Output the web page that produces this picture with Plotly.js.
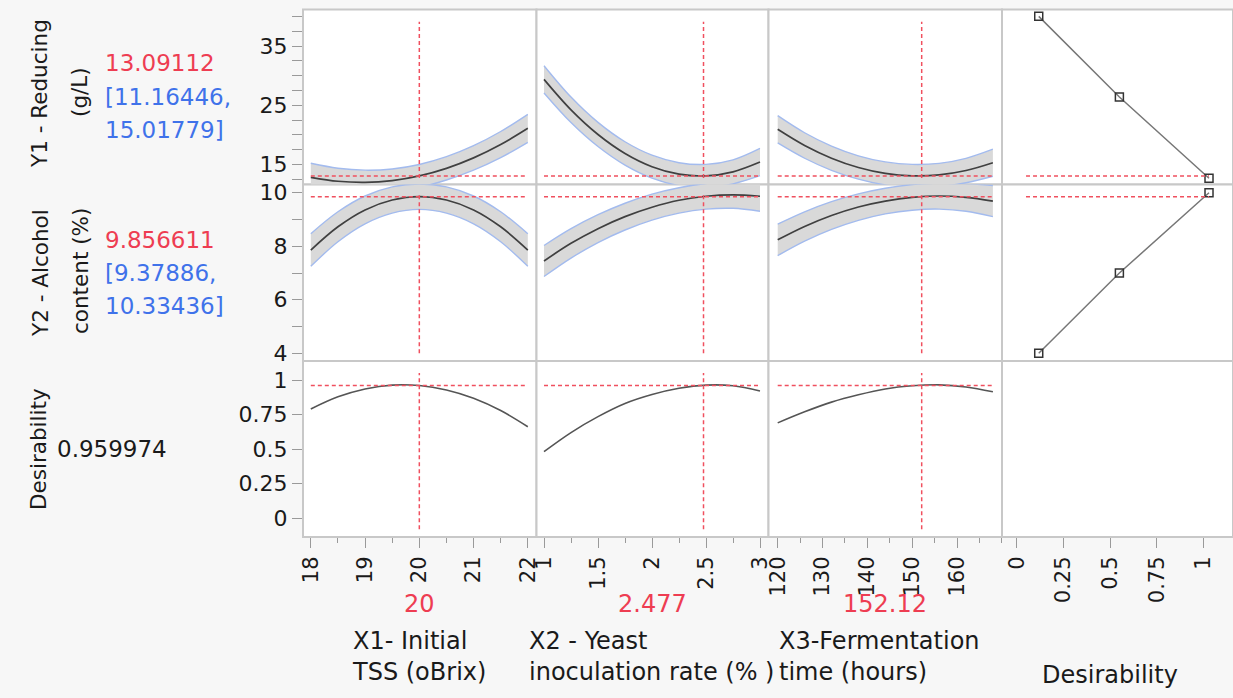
<!DOCTYPE html>
<html>
<head>
<meta charset="utf-8">
<script src="https://cdn.plot.ly/plotly-3.0.1.min.js"></script>
<style>html,body{margin:0;padding:0;background:#f7f7f7;}#chart{width:1233px;height:698px;}</style>
</head>
<body>
<div id="chart"></div>
<script>
// ---------- DATA ----------
const factorNames = ["X1- Initial<br>TSS (oBrix)", "X2 - Yeast<br>inoculation rate (% )", "X3-Fermentation<br>time (hours)", "Desirability"];
const currentX = [20, 2.477, 152.12];
const currentXText = ["20", "2.477", "152.12"];

const x1Vals = [18, 18.5, 19, 19.5, 20, 20.5, 21, 21.5, 22];
const x2Vals = [1, 1.25, 1.5, 1.75, 2, 2.25, 2.5, 2.75, 3];
const x3Vals = [120, 126, 132, 138, 144, 150, 156, 162, 168];

// Y1 - Reducing (g/L)
const y1_x1 = [12.86, 12.19, 12.0, 12.3, 13.09, 14.37, 16.13, 18.38, 21.12];
const y1_x1_hi = [15.22, 14.39, 14.06, 14.26, 15.02, 16.33, 18.19, 20.58, 23.48];
const y1_x1_lo = [10.5, 9.99, 9.94, 10.34, 11.16, 12.41, 14.07, 16.18, 18.76];
const y1_x2 = [29.38, 24.24, 20.08, 16.88, 14.65, 13.39, 13.10, 13.78, 15.43];
const y1_x2_hi = [31.68, 26.39, 22.12, 18.85, 16.59, 15.32, 15.03, 15.80, 17.73];
const y1_x2_lo = [27.08, 22.09, 18.04, 14.91, 12.71, 11.46, 11.17, 11.76, 13.13];
const y1_x3 = [20.95, 18.22, 16.08, 14.51, 13.51, 13.10, 13.26, 14.00, 15.32];
const y1_x3_hi = [23.25, 20.37, 18.12, 16.48, 15.45, 15.03, 15.21, 16.06, 17.60];
const y1_x3_lo = [18.65, 16.07, 14.04, 12.54, 11.58, 11.17, 11.31, 11.94, 13.04];

// Y2 - Alcohol content (%)
const y2_x1 = [7.86, 8.73, 9.36, 9.73, 9.86, 9.73, 9.36, 8.73, 7.86];
const y2_x1_hi = [8.47, 9.29, 9.88, 10.22, 10.33, 10.22, 9.88, 9.29, 8.47];
const y2_x1_lo = [7.25, 8.17, 8.84, 9.24, 9.38, 9.24, 8.84, 8.17, 7.25];
const y2_x2 = [7.45, 8.11, 8.66, 9.11, 9.46, 9.72, 9.87, 9.92, 9.87];
const y2_x2_hi = [8.03, 8.66, 9.18, 9.61, 9.95, 10.19, 10.35, 10.42, 10.43];
const y2_x2_lo = [6.87, 7.56, 8.14, 8.61, 8.98, 9.24, 9.39, 9.42, 9.31];
const y2_x3 = [8.24, 8.74, 9.15, 9.47, 9.69, 9.83, 9.88, 9.83, 9.69];
const y2_x3_hi = [8.83, 9.29, 9.67, 9.96, 10.17, 10.31, 10.36, 10.35, 10.27];
const y2_x3_lo = [7.65, 8.19, 8.63, 8.97, 9.21, 9.35, 9.39, 9.31, 9.11];

// Desirability
const d_x1 = [0.79, 0.878, 0.935, 0.963, 0.96, 0.928, 0.868, 0.779, 0.662];
const d_x2 = [0.482, 0.62, 0.735, 0.83, 0.895, 0.94, 0.963, 0.958, 0.92];
const d_x3 = [0.69, 0.77, 0.84, 0.893, 0.935, 0.958, 0.965, 0.95, 0.915];

// Desirability functions (desirability, response)
const desY1_d = [0.118, 0.55, 1.03];
const desY1_v = [40, 26.4, 12.7];
const desY2_d = [0.118, 0.55, 1.03];
const desY2_v = [4, 7, 10];

// Current responses
const respValues = [13.09112, 9.856611, 0.959974];
const respText = ["13.09112", "9.856611", "0.959974"];
const ciText = [["[11.16446,", "15.01779]"], ["[9.37886,", "10.33436]"]];
const respLabels = [["Y1 - Reducing", "(g/L)"], ["Y2 - Alcohol", "content (%)"], ["Desirability"]];
const vLineRange = [[12.75, 39.1], [4, 10], [-0.08, 1.05]];
const hLineX = [[18, 22], [1, 3], [120, 168], [0.05, 1.03]];

// Tick labels
const xTicks = [[18, 19, 20, 21, 22], [1, 1.5, 2, 2.5, 3], [120, 130, 140, 150, 160], [0, 0.25, 0.5, 0.75, 1]];
const yTicks = [[15, 25, 35], [4, 6, 8, 10], [0, 0.25, 0.5, 0.75, 1]];

// ---------- LAYOUT GEOMETRY ----------
const W = 1233, H = 698;
const fx = p => p / W;
const fy = p => 1 - p / H;
const colPx = [[303, 536.5], [536.5, 768.5], [768.5, 1002], [1002, 1233]];
const rowPx = [[9.5, 184.5], [184.5, 361], [361, 537]];
const xRanges = [[17.856, 22.160], [0.9306, 3.0787], [117.948, 170.034], [-0.0787, 1.1585]];
const yRanges = [[11.644, 41.155], [3.712, 10.310], [-0.1352, 1.1374]];
const xMinor = [{dtick: 0.5, tick0: 18}, {dtick: 0.25, tick0: 1}, {dtick: 5, tick0: 120}, null];
const yMinor = [{dtick: 2.5, tick0: 15}, {dtick: 1, tick0: 4}, null];

const FONT = "DejaVu Sans";
const RED = "#ee3d52";
const BLUE = "#3f72ea";
const TXT = "#1a1a1a";

const xa = c => c === 0 ? 'x' : 'x' + (c + 1);
const ya = r => r === 0 ? 'y' : 'y' + (r + 1);

const traces = [];
function band(c, r, xs, lo, hi, mid) {
  traces.push({x: xs, y: lo, xaxis: xa(c), yaxis: ya(r), mode: 'lines', line: {color: '#a3bbee', width: 1.4, shape: 'spline'}, hoverinfo: 'skip'});
  traces.push({x: xs, y: hi, xaxis: xa(c), yaxis: ya(r), mode: 'lines', fill: 'tonexty', fillcolor: '#d9d9d9', line: {color: '#a3bbee', width: 1.4, shape: 'spline'}, hoverinfo: 'skip'});
  traces.push({x: xs, y: mid, xaxis: xa(c), yaxis: ya(r), mode: 'lines', line: {color: '#404040', width: 1.7, shape: 'spline'}});
}
const xsets = [x1Vals, x2Vals, x3Vals];
band(0, 0, x1Vals, y1_x1_lo, y1_x1_hi, y1_x1);
band(1, 0, x2Vals, y1_x2_lo, y1_x2_hi, y1_x2);
band(2, 0, x3Vals, y1_x3_lo, y1_x3_hi, y1_x3);
band(0, 1, x1Vals, y2_x1_lo, y2_x1_hi, y2_x1);
band(1, 1, x2Vals, y2_x2_lo, y2_x2_hi, y2_x2);
band(2, 1, x3Vals, y2_x3_lo, y2_x3_hi, y2_x3);
[d_x1, d_x2, d_x3].forEach((d, c) => {
  traces.push({x: xsets[c], y: d, xaxis: xa(c), yaxis: ya(2), mode: 'lines', line: {color: '#555', width: 1.6, shape: 'spline'}});
});
// desirability functions
[[desY1_d, desY1_v], [desY2_d, desY2_v]].forEach((p, r) => {
  traces.push({x: p[0], y: p[1], xaxis: 'x4', yaxis: ya(r), mode: 'lines+markers',
    line: {color: '#777', width: 1.5},
    marker: {symbol: 'square-open', size: 8, color: '#333', line: {width: 1.5, color: '#333'}}});
});
traces.push({x: [], y: [], xaxis: 'x4', yaxis: 'y3', mode: 'lines'});
// red dashed reference lines
const dash = {color: '#f0505f', width: 1.5, dash: '4px,3px'};
for (let r = 0; r < 3; r++) {
  for (let c = 0; c < 3; c++) {
    traces.push({x: [currentX[c], currentX[c]], y: vLineRange[r], xaxis: xa(c), yaxis: ya(r), mode: 'lines', line: dash});
    traces.push({x: hLineX[c], y: [respValues[r], respValues[r]], xaxis: xa(c), yaxis: ya(r), mode: 'lines', line: dash});
  }
}
for (let r = 0; r < 2; r++) {
  traces.push({x: hLineX[3], y: [respValues[r], respValues[r]], xaxis: 'x4', yaxis: ya(r), mode: 'lines', line: dash});
}

const layout = {
  width: W, height: H,
  margin: {l: 0, r: 0, t: 0, b: 0},
  paper_bgcolor: '#f7f7f7',
  plot_bgcolor: 'rgba(0,0,0,0)',
  showlegend: false,
  font: {family: FONT, color: TXT},
  shapes: [], annotations: []
};
for (let c = 0; c < 4; c++) {
  const ax = {
    domain: [fx(colPx[c][0]), fx(colPx[c][1])],
    range: xRanges[c], anchor: 'y3',
    tickmode: 'array', tickvals: xTicks[c], tickangle: -90,
    ticks: 'outside', ticklen: 10, tickwidth: 1, tickcolor: '#9a9a9a',
    tickfont: {family: FONT, size: 21, color: TXT},
    showgrid: false, zeroline: false, showline: false, fixedrange: true
  };
  if (xMinor[c]) ax.minor = Object.assign({ticks: 'outside', ticklen: 5, tickcolor: '#9a9a9a', showgrid: false}, xMinor[c]);
  layout[c === 0 ? 'xaxis' : 'xaxis' + (c + 1)] = ax;
}
for (let r = 0; r < 3; r++) {
  const ay = {
    domain: [fy(rowPx[r][1]), fy(rowPx[r][0])],
    range: yRanges[r], anchor: 'x',
    tickmode: 'array', tickvals: yTicks[r],
    ticks: 'outside', ticklen: 10, tickwidth: 1, tickcolor: '#9a9a9a',
    tickfont: {family: FONT, size: 22, color: TXT},
    showgrid: false, zeroline: false, showline: false, fixedrange: true
  };
  if (yMinor[r]) ay.minor = Object.assign({ticks: 'outside', ticklen: 10, tickcolor: '#9a9a9a', showgrid: false}, yMinor[r]);
  layout[r === 0 ? 'yaxis' : 'yaxis' + (r + 1)] = ay;
}
// panel frames
for (let r = 0; r < 3; r++) {
  for (let c = 0; c < 4; c++) {
    layout.shapes.push({type: 'rect', xref: 'paper', yref: 'paper', layer: 'below',
      x0: fx(colPx[c][0]), x1: fx(colPx[c][1]), y0: fy(rowPx[r][1]), y1: fy(rowPx[r][0]),
      fillcolor: '#ffffff', line: {color: '#c8c8c8', width: 2}});
  }
}
function ann(text, x, y, opts) {
  layout.annotations.push(Object.assign({text: text, x: fx(x), y: fy(y), xref: 'paper', yref: 'paper',
    showarrow: false, xanchor: 'center', yanchor: 'middle', font: {family: FONT, size: 22, color: TXT}}, opts || {}));
}
// left rotated labels
const labelY = [94, 273, 449];
respLabels.forEach((lines, r) => {
  if (lines.length === 2) {
    ann(lines[0], 40, labelY[r], {textangle: -90, font: {family: FONT, size: 21.5, color: TXT}});
    ann(lines[1], 80, labelY[r] - 2, {textangle: -90, font: {family: FONT, size: 21.5, color: TXT}});
  } else {
    ann(lines[0], 38, labelY[r], {textangle: -90, font: {family: FONT, size: 21.5, color: TXT}});
  }
});
// current values and CIs
ann(respText[0], 103, 63, {xanchor: 'left', font: {family: FONT, size: 23, color: RED}});
ann(ciText[0][0], 103, 97, {xanchor: 'left', font: {family: FONT, size: 23, color: BLUE}});
ann(ciText[0][1], 103, 130, {xanchor: 'left', font: {family: FONT, size: 23, color: BLUE}});
ann(respText[1], 103, 240, {xanchor: 'left', font: {family: FONT, size: 23, color: RED}});
ann(ciText[1][0], 103, 273, {xanchor: 'left', font: {family: FONT, size: 23, color: BLUE}});
ann(ciText[1][1], 103, 306, {xanchor: 'left', font: {family: FONT, size: 23, color: BLUE}});
ann(respText[2], 55, 449, {xanchor: 'left', font: {family: FONT, size: 23, color: TXT}});
// bottom factor values and names
const colCenters = colPx.map(p => (p[0] + p[1]) / 2);
currentXText.forEach((t, c) => ann(t, colCenters[c], 604, {font: {family: FONT, size: 24, color: RED}}));
const nameLeft = [350, 527, 777];
for (let c = 0; c < 3; c++) {
  ann(factorNames[c], nameLeft[c], 656.5, {xanchor: 'left', align: 'left', font: {family: FONT, size: 24, color: TXT}});
}
ann(factorNames[3], 1040, 675, {xanchor: 'left', font: {family: FONT, size: 24, color: TXT}});

Plotly.newPlot('chart', traces, layout, {displayModeBar: false, staticPlot: true});
</script>
</body>
</html>
